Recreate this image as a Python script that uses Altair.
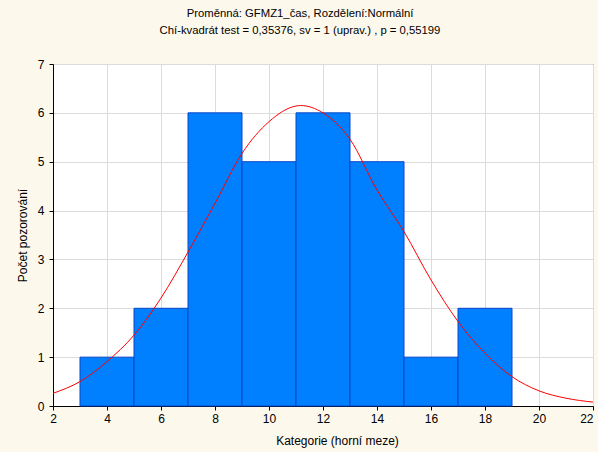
import altair as alt
import pandas as pd

# Histogram bins (lower/upper limits) and counts
bin_start = [3, 5, 7, 9, 11, 13, 15, 17]
bin_end = [5, 7, 9, 11, 13, 15, 17, 19]
counts = [1, 2, 6, 5, 6, 5, 1, 2]

# Fitted normal curve
curve_x = [2, 3, 4, 5, 6, 7, 8, 9, 10, 11, 11.17, 12, 13, 14, 15, 16, 17, 18, 19, 20, 21, 22]
curve_y = [0.26, 0.50, 0.91, 1.45, 2.21, 3.15, 4.15, 5.17, 5.82, 6.14, 6.15, 6.00, 5.46,
           4.42, 3.57, 2.58, 1.73, 1.08, 0.60, 0.31, 0.16, 0.08]

x_ticks = [2, 4, 6, 8, 10, 12, 14, 16, 18, 20, 22]
y_ticks = [0, 1, 2, 3, 4, 5, 6, 7]

bars_df = pd.DataFrame({"start": bin_start, "end": bin_end, "count": counts})
curve_df = pd.DataFrame({"x": curve_x, "y": curve_y})

FONT = "Liberation Sans"

xscale = alt.Scale(domain=[2, 22], nice=False, zero=False)
yscale = alt.Scale(domain=[0, 7], nice=False)

bars = alt.Chart(bars_df).mark_rect(
    fill="#0080FF", stroke="#0A46C8", strokeWidth=1
).encode(
    x=alt.X("start:Q", scale=xscale,
            axis=alt.Axis(values=x_ticks, title="Kategorie (horní meze)",
                          titleX=284, titleY=34, titleBaseline="middle",
                          titleFontWeight="normal", titleFontSize=12, titleFont=FONT,
                          labelFont=FONT, labelFontSize=12, labelColor="#000",
                          labelFlush=False, labelOverlap=False,
                          labelAlign=alt.expr("datum.value == 22 ? 'right' : 'center'"),
                          tickSize=4, labelPadding=3, tickColor="#000",
                          domainColor="#000", gridColor="#DCDCDC", titleColor="#000")),
    x2="end:Q",
    y=alt.Y("count:Q", scale=yscale,
            axis=alt.Axis(values=y_ticks, title="Počet pozorování",
                          titleX=-31, titleY=171, titleAngle=-90, titleBaseline="middle",
                          titleAlign="center",
                          titleFontWeight="normal", titleFontSize=12, titleFont=FONT,
                          labelFont=FONT, labelFontSize=12, labelColor="#000",
                          labelFlush=False,
                          tickSize=4, labelPadding=5, tickColor="#000",
                          domainColor="#000", gridColor="#DCDCDC", titleColor="#000")),
    y2=alt.datum(0),
)

curve = alt.Chart(curve_df).mark_line(
    color="#FF0000", strokeWidth=1, interpolate="monotone"
).encode(
    x=alt.X("x:Q", scale=xscale),
    y=alt.Y("y:Q", scale=yscale),
)

chart = alt.layer(bars, curve).properties(
    width=540,
    height=342,
    autosize=alt.AutoSizeParams(type="none"),
    padding={"left": 53, "top": 64, "right": 5, "bottom": 46},
    background="#FDF8EC",
    title=alt.Title(
        text=["Proměnná: GFMZ1_čas, Rozdělení:Normální",
              "Chí-kvadrát test = 0,35376, sv = 1 (uprav.) , p = 0,55199"],
        font=FONT, fontSize=11.3, fontWeight="normal", color="#000",
        anchor="middle", dx=-23, offset=22, lineHeight=17,
    ),
).configure_view(
    fill="white", stroke="#555555", strokeWidth=1
)

chart.save("out.html", embed_options={"renderer": "svg", "actions": False})
